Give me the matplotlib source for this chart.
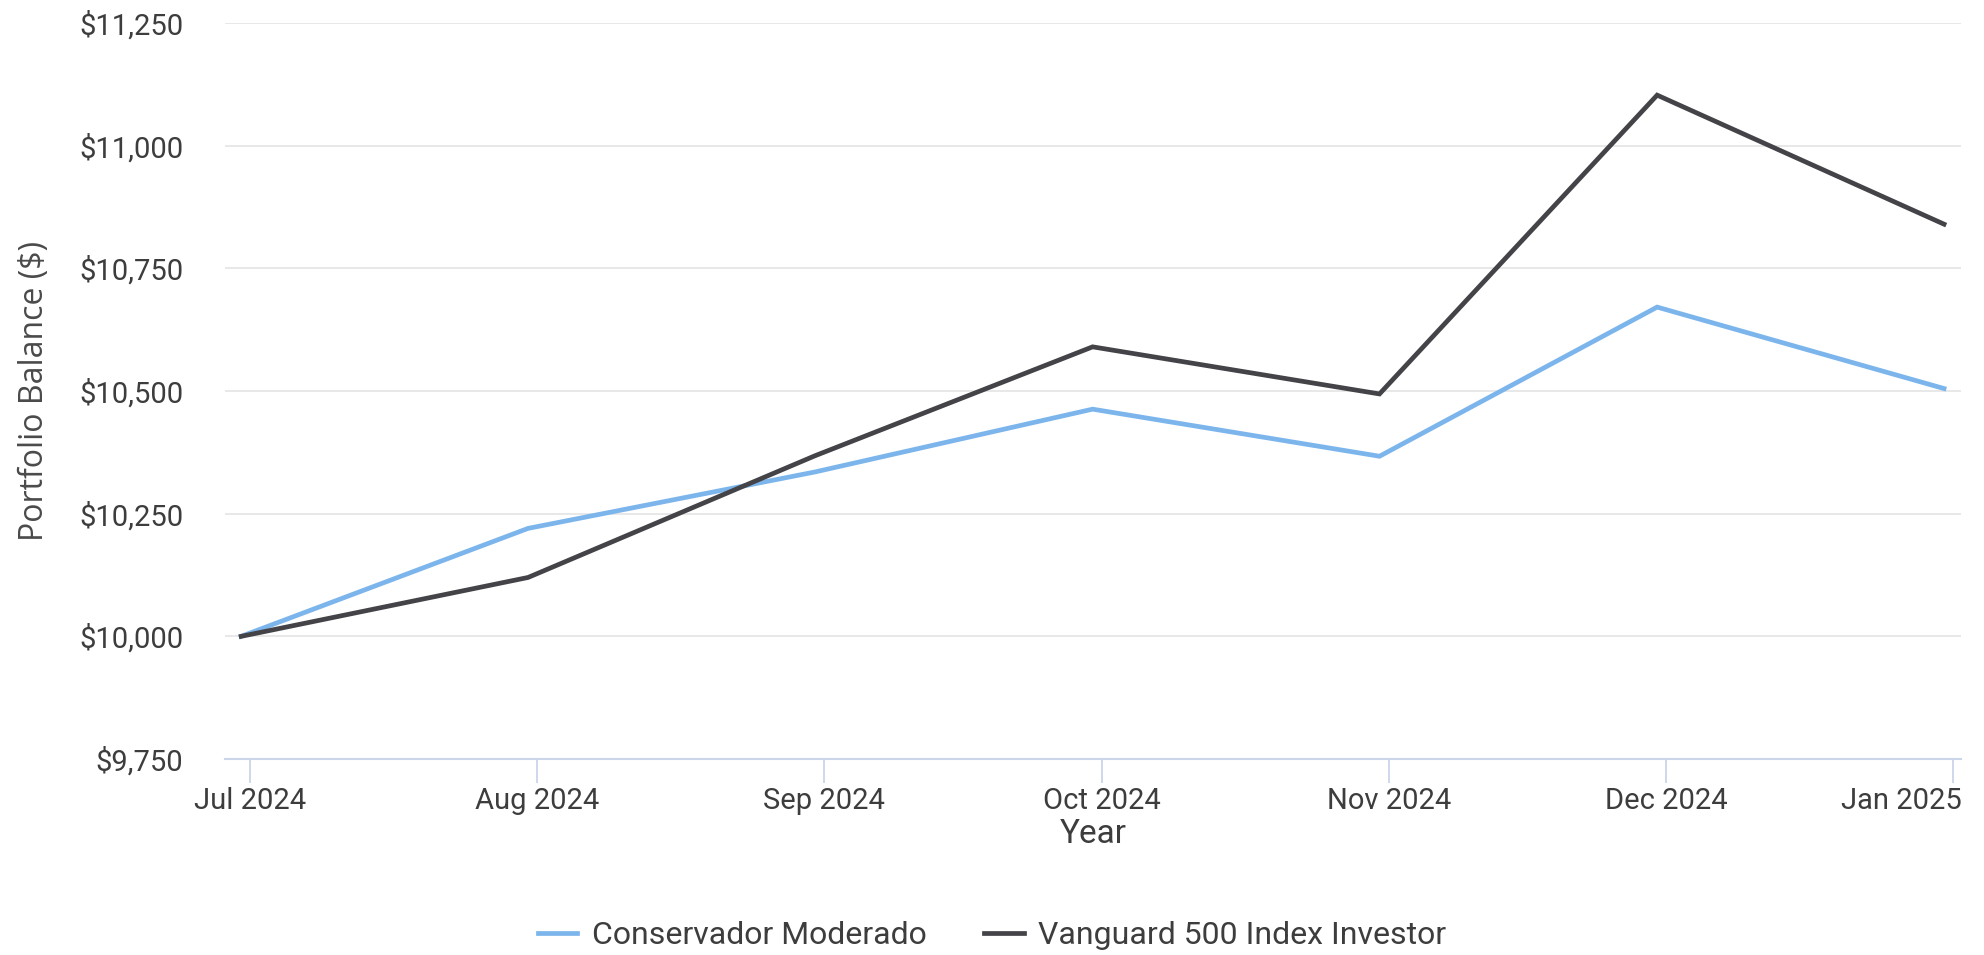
import matplotlib
matplotlib.use("Agg")
import matplotlib.pyplot as plt
import matplotlib.dates as mdates
import matplotlib.ticker as mticker
import matplotlib.transforms as mtransforms
import pandas as pd

dates = pd.to_datetime([
    "2024-06-30", "2024-07-31", "2024-08-31", "2024-09-30",
    "2024-10-31", "2024-11-30", "2024-12-31",
])
conservador = [10000, 10220, 10335, 10463, 10367, 10671, 10505]
vanguard = [10000, 10120, 10368, 10590, 10494, 11103, 10840]
series_names = ["Conservador Moderado", "Vanguard 500 Index Investor"]
series_colors = ["#7cb5ec", "#434348"]
y_ticks = [9750, 10000, 10250, 10500, 10750, 11000, 11250]

plt.rcParams["font.family"] = ["Roboto", "DejaVu Sans"]
text_color = "#3d3d3d"

fig = plt.figure(figsize=(19.84, 9.55), dpi=100)
ax = fig.add_axes([225 / 1984, 196 / 955, 1736 / 1984, 736 / 955])

for vals, name, color in zip([conservador, vanguard], series_names, series_colors):
    ax.plot(dates, vals, color=color, lw=3.4, label=name, solid_joinstyle="miter")

ax.set_ylim(y_ticks[0], y_ticks[-1])
ax.set_yticks(y_ticks)
ax.yaxis.set_major_formatter(mticker.FuncFormatter(lambda v, p: f"${v:,.0f}"))
ax.set_xlim(pd.Timestamp("2024-06-28 06:00"), pd.Timestamp("2025-01-01 20:00"))
ax.xaxis.set_major_locator(mdates.MonthLocator())
ax.xaxis.set_major_formatter(mdates.DateFormatter("%b %Y"))

ax.grid(axis="y", color="#e6e6e6", lw=1.3)
ax.set_axisbelow(True)
for s in ["top", "right", "left"]:
    ax.spines[s].set_visible(False)
ax.spines["bottom"].set_color("#ccd6eb")
ax.spines["bottom"].set_linewidth(1.5)

ax.tick_params(axis="y", length=0, pad=30, labelsize=21, labelcolor=text_color)
ax.tick_params(axis="x", length=17, width=1.3, color="#ccd6eb", pad=3,
               labelsize=21, labelcolor=text_color)

# last label kept inside the plot edge, as in the original
fig.canvas.draw()
last = ax.get_xticklabels()[-1]
last.set_ha("right")
last.set_transform(last.get_transform() + mtransforms.ScaledTranslation(8 / 100, 0, fig.dpi_scale_trans))

ax.set_xlabel("Year", fontsize=24, color=text_color, labelpad=2)
ax.set_ylabel("Portfolio Balance ($)", fontsize=23, color="#4a4a4a", labelpad=20,
              family=["Open Sans", "DejaVu Sans"])

fig.legend(loc="center", bbox_to_anchor=(0.5, 0.02), ncol=2, frameon=False,
           fontsize=23, handlelength=1.25, handletextpad=0.45, columnspacing=1.8,
           labelcolor=text_color)

fig.savefig("out.png", dpi=100)
plt.close(fig)
